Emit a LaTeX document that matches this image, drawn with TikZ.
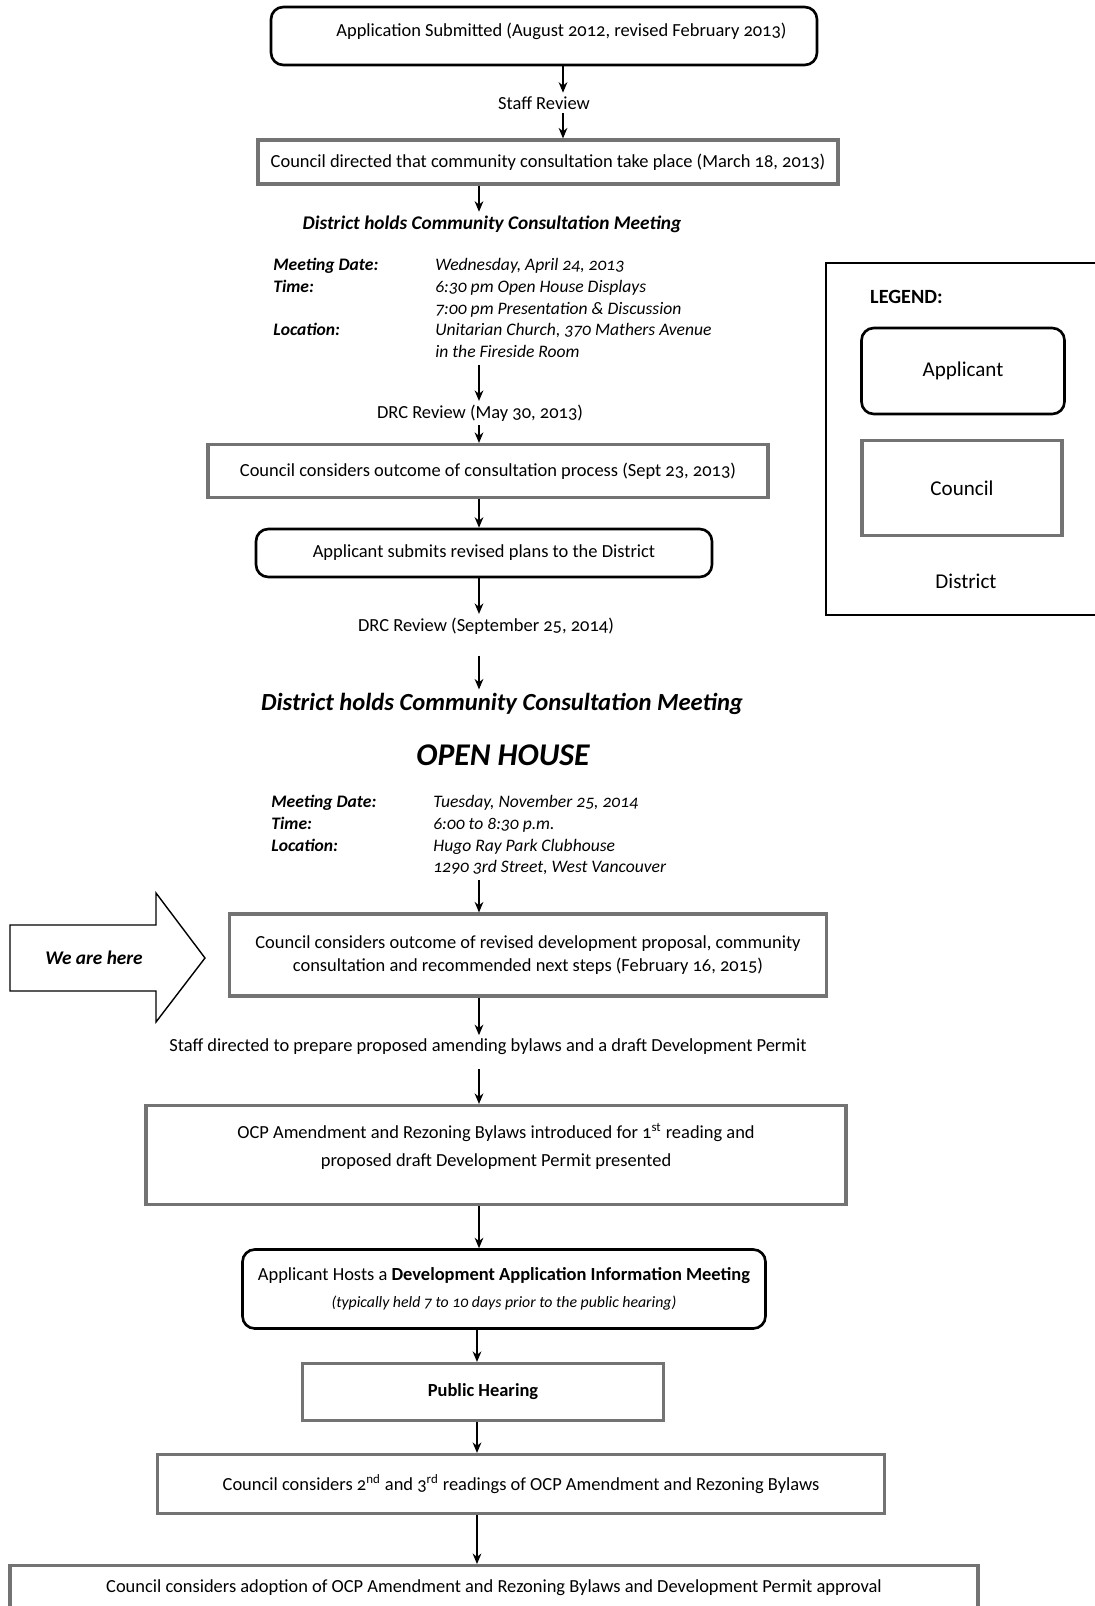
\documentclass[tikz,border=0pt]{standalone}
\usepackage{fontspec}
\setmainfont{Carlito}[Numbers=OldStyle]
\usepackage{tikz}
\usetikzlibrary{arrows.meta,calc,positioning}

\tikzset{
  boxsize/.style 2 args={minimum width=#1*0.02cm, minimum height=#2*0.02cm},
  applicant/.style={draw, rounded corners=7pt, line width=1.5pt, align=center},
  council/.style={draw=black!55, line width=1.8pt, align=center},
  district/.style={align=center, inner sep=2pt},
  heading/.style={district, font=\fontsize{11}{13}\selectfont\bfseries\itshape},
  info/.style={inner sep=0pt, anchor=north west, font=\fontsize{10}{12.4}\selectfont\itshape},
  flow/.style={-{Stealth[length=6pt,width=5pt]}, line width=0.7pt},
}

\begin{document}
\begin{tikzpicture}[x=0.02cm, y=-0.02cm, font=\fontsize{10.5}{13}\selectfont]
\useasboundingbox (0,0) rectangle (1095,1606);
\fill[white] (0,0) rectangle (1095,1606);

% where the arrows run
\coordinate (top) at (563,0);
\coordinate (mid) at (479,0);
\coordinate (low) at (477,0);

% first consultation
\node[applicant, boxsize={546}{58}, text depth=7pt] (appsub) at (544,36) {\hspace*{0.7cm}Application Submitted (August 2012, revised February 2013)};
\node[district] (staff) at (544,103) {Staff Review};
\node[council, boxsize={580}{44}] (cdirect) at (548,162) {Council directed that community consultation take place (March 18, 2013)};
\node[heading] (meeting1) at (492,224) {District holds Community Consultation Meeting};
\node[info] (details1) at (273,255) {%
  \begin{tabular}{@{}p{3.24cm}@{}l@{}}
    \textbf{Meeting Date:} & Wednesday, April 24, 2013\\
    \textbf{Time:} & 6:30 pm Open House Displays\\
     & 7:00 pm Presentation \& Discussion\\
    \textbf{Location:} & Unitarian Church, 370 Mathers Avenue\\
     & in the Fireside Room
  \end{tabular}};
\node[district] (drc1) at (480,413) {DRC Review (May 30, 2013)};
\node[council, boxsize={560}{53}] (outcome1) at (488,471) {Council considers outcome of consultation process (Sept 23, 2013)};
\node[applicant, boxsize={456}{48}] (revised) at (484,553) {Applicant submits revised plans to the District};
\node[district] (drc2) at (486,626) {DRC Review (September 25, 2014)};

% open house
\node[heading, font=\fontsize{14}{16}\selectfont\bfseries\itshape] (meeting2) at (502,704) {District holds Community Consultation Meeting};
\node[heading, font=\fontsize{18}{20}\selectfont\bfseries\itshape] (openhouse) at (503,755) {OPEN HOUSE};
\node[info] (details2) at (271,792) {%
  \begin{tabular}{@{}p{3.24cm}@{}l@{}}
    \textbf{Meeting Date:} & Tuesday, November 25, 2014\\
    \textbf{Time:} & 6:00 to 8:30 p.m.\\
    \textbf{Location:} & Hugo Ray Park Clubhouse\\
     & 1290 3rd Street, West Vancouver
  \end{tabular}};

% now
\node[council, boxsize={597}{82}] (outcome2) at (528,955) {Council considers outcome of revised development proposal, community\\consultation and recommended next steps (February 16, 2015)};
\draw[line width=0.8pt] (10,925) -- (156,925) -- (156,893) -- (205,958) -- (156,1022) -- (156,991) -- (10,991) -- cycle;
\node[heading] (here) at (94,958) {We are here};
\node[district] (staffdir) at (488,1047) {Staff directed to prepare proposed amending bylaws and a draft Development Permit};

% bylaws
\node[council, boxsize={700}{99}, text depth=11.5pt] (firstread) at (496,1155) {OCP Amendment and Rezoning Bylaws introduced for 1\textsuperscript{st} reading and\\[3pt]proposed draft Development Permit presented};
\node[applicant, boxsize={523}{79}] (infomeet) at (504,1289) {Applicant Hosts a \textbf{Development Application Information Meeting}\\[2pt]{\small\itshape (typically held 7 to 10 days prior to the public hearing)}};
\node[council, boxsize={361}{57}, font=\fontsize{10.5}{13}\selectfont\bfseries] (hearing) at (483,1392) {Public Hearing};
\node[council, boxsize={727}{59}] (readings) at (521,1484) {Council considers 2\textsuperscript{nd} and 3\textsuperscript{rd} readings of OCP Amendment and Rezoning Bylaws};
\node[council, anchor=north, minimum width=968*0.02cm, inner ysep=8pt, text depth=1.5cm] (adoption) at (494,1564) {Council considers adoption of OCP Amendment and Rezoning Bylaws and Development Permit approval};

% legend
\draw[line width=0.8pt] (1100,263) -- (826,263) -- (826,615) -- (1100,615);
\node[anchor=west, font=\fontsize{11.5}{14}\selectfont\bfseries] (legend) at (864,297) {LEGEND:};
\node[applicant, boxsize={203}{86}, font=\fontsize{12}{14}\selectfont] (lgapp) at (963,371) {Applicant};
\node[council, boxsize={200}{95}, font=\fontsize{12}{14}\selectfont] (lgcouncil) at (962,488) {Council};
\node[district, font=\fontsize{12}{14}\selectfont] (lgdistrict) at (966,581) {District};

% connectors
\draw[flow] (appsub.south -| top) -- (staff.north -| top);
\draw[flow] (staff.south -| top) -- (cdirect.north -| top);
\draw[flow] (cdirect.south -| mid) -- (meeting1.north -| mid);
\draw[flow] (details1.south -| mid) -- (drc1.north -| mid);
\draw[flow] (drc1.south -| mid) -- (outcome1.north -| mid);
\draw[flow] (outcome1.south -| mid) -- (revised.north -| mid);
\draw[flow] (revised.south -| mid) -- (drc2.north -| mid);
\draw[flow] ([yshift=-10pt]drc2.south -| mid) -- (meeting2.north -| mid);
\draw[flow] (details2.south -| mid) -- (outcome2.north -| mid);
\draw[flow] (outcome2.south -| mid) -- (staffdir.north -| mid);
\draw[flow] ([yshift=-6pt]staffdir.south -| mid) -- (firstread.north -| mid);
\draw[flow] (firstread.south -| mid) -- (infomeet.north -| mid);
\draw[flow] (infomeet.south -| low) -- (hearing.north -| low);
\draw[flow] (hearing.south -| low) -- (readings.north -| low);
\draw[flow] (readings.south -| low) -- (adoption.north -| low);
\end{tikzpicture}
\end{document}
